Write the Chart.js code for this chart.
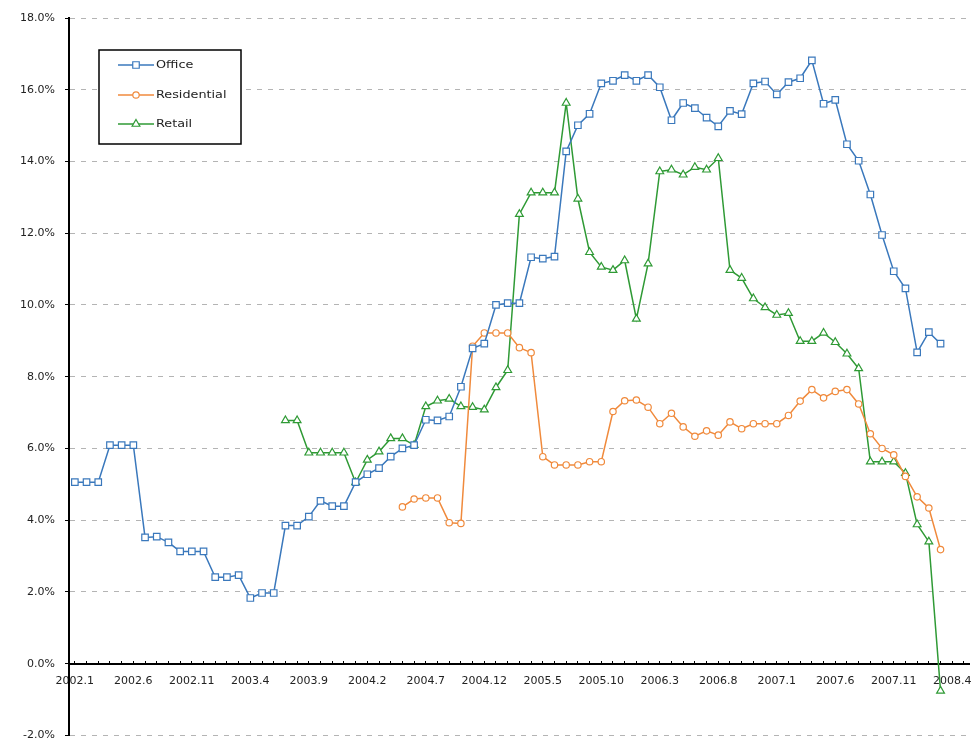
<!DOCTYPE html>
<html>
<head>
<meta charset="utf-8">
<script src="https://cdn.jsdelivr.net/npm/chart.js@4.4.1/dist/chart.umd.min.js"></script>
<style>
  html, body { margin: 0; padding: 0; background: #fff; }
  #wrap { width: 979px; height: 752px; position: relative; }
</style>
</head>
<body>
<div id="wrap"><canvas id="yield-chart"></canvas></div>
<script>
// Monthly categories, 2002.1 onward (axis runs a little past the last reading)
const months = [
    '2002.1', '2002.2', '2002.3', '2002.4', '2002.5', '2002.6', '2002.7', '2002.8', '2002.9', '2002.10', '2002.11', '2002.12',
    '2003.1', '2003.2', '2003.3', '2003.4', '2003.5', '2003.6', '2003.7', '2003.8', '2003.9', '2003.10', '2003.11', '2003.12',
    '2004.1', '2004.2', '2004.3', '2004.4', '2004.5', '2004.6', '2004.7', '2004.8', '2004.9', '2004.10', '2004.11', '2004.12',
    '2005.1', '2005.2', '2005.3', '2005.4', '2005.5', '2005.6', '2005.7', '2005.8', '2005.9', '2005.10', '2005.11', '2005.12',
    '2006.1', '2006.2', '2006.3', '2006.4', '2006.5', '2006.6', '2006.7', '2006.8', '2006.9', '2006.10', '2006.11', '2006.12',
    '2007.1', '2007.2', '2007.3', '2007.4', '2007.5', '2007.6', '2007.7', '2007.8', '2007.9', '2007.10', '2007.11', '2007.12',
    '2008.1', '2008.2', '2008.3', '2008.4', '2008.5'
];

// Office: 2002.1 - 2008.3
const office = [
    5.06, 5.06, 5.06, 6.09, 6.09, 6.09, 3.52, 3.54, 3.38, 3.13, 3.13, 3.13,
    2.41, 2.41, 2.47, 1.83, 1.97, 1.97, 3.85, 3.85, 4.10, 4.54, 4.39, 4.39,
    5.06, 5.28, 5.45, 5.77, 6.00, 6.09, 6.80, 6.78, 6.89, 7.72, 8.79, 8.92,
    10.00, 10.05, 10.05, 11.33, 11.29, 11.35, 14.28, 15.01, 15.33, 16.18, 16.25, 16.41,
    16.25, 16.41, 16.07, 15.15, 15.63, 15.49, 15.22, 14.98, 15.41, 15.32, 16.18, 16.23,
    15.87, 16.21, 16.32, 16.82, 15.61, 15.72, 14.48, 14.02, 13.08, 11.95, 10.94, 10.46,
    8.68, 9.24, 8.92
];

// Residential: 2004.5 - 2008.3
const residentialStart = 28;
const residential = [
    4.37, 4.59, 4.62, 4.62, 3.93, 3.91, 8.85, 9.22,
    9.22, 9.22, 8.81, 8.67, 5.77, 5.54, 5.54, 5.54, 5.63, 5.63, 7.03, 7.33,
    7.35, 7.15, 6.69, 6.98, 6.60, 6.34, 6.49, 6.37, 6.74, 6.55, 6.69, 6.69,
    6.69, 6.92, 7.32, 7.64, 7.41, 7.59, 7.64, 7.24, 6.41, 6.00, 5.82, 5.22,
    4.65, 4.34, 3.18
];

// Retail: 2003.7 - 2008.3
const retailStart = 18;
const retail = [
    6.78, 6.78, 5.88, 5.88, 5.88, 5.88,
    5.05, 5.68, 5.91, 6.28, 6.28, 6.09, 7.17, 7.33, 7.38, 7.17, 7.15, 7.08,
    7.70, 8.18, 12.53, 13.13, 13.13, 13.13, 15.63, 12.96, 11.47, 11.06, 10.97, 11.24,
    9.61, 11.15, 13.72, 13.77, 13.63, 13.84, 13.77, 14.09, 10.97, 10.75, 10.18, 9.93,
    9.72, 9.77, 8.99, 8.99, 9.22, 8.96, 8.64, 8.23, 5.63, 5.63, 5.63, 5.31,
    3.88, 3.40, -0.76
];

const yTicks = [-2, 0, 2, 4, 6, 8, 10, 12, 14, 16, 18];

function padFrom(start, values) {
    return Array(start).fill(null).concat(values);
}

const tickFont = { family: 'DejaVu Sans', size: 11 };

// Boxed legend drawn in the upper-left of the plot
const boxLegend = {
    id: 'boxLegend',
    afterDraw(chart) {
        const ctx = chart.ctx;
        ctx.save();
        ctx.fillStyle = '#fff';
        ctx.fillRect(99, 50, 142, 94);
        ctx.strokeStyle = '#000';
        ctx.lineWidth = 1.5;
        ctx.strokeRect(99, 50, 142, 94);

        const rows = [65, 95, 124];
        chart.data.datasets.forEach((ds, i) => {
            const y = rows[i];
            ctx.strokeStyle = ds.borderColor;
            ctx.lineWidth = 1.5;
            ctx.beginPath();
            ctx.moveTo(118, y);
            ctx.lineTo(154, y);
            ctx.stroke();

            ctx.fillStyle = '#fff';
            ctx.lineWidth = 1.2;
            Chart.helpers.drawPoint(ctx, {
                pointStyle: ds.pointStyle,
                radius: ds.pointRadius,
                rotation: 0,
                borderWidth: 1.2
            }, 136, y);

            ctx.save();
            ctx.translate(156, y);
            ctx.scale(1.28, 1);
            ctx.fillStyle = '#222';
            ctx.font = '10px "DejaVu Sans"';
            ctx.textBaseline = 'middle';
            ctx.fillText(ds.label, 0, 0);
            ctx.restore();
        });
        ctx.restore();
    }
};

function lineSet(label, data, color, style, radius) {
    return {
        label: label,
        data: data,
        borderColor: color,
        backgroundColor: color,
        borderWidth: 1.5,
        pointStyle: style,
        pointRadius: radius,
        pointBorderWidth: 1.2,
        pointBackgroundColor: '#fff',
        pointBorderColor: color,
        tension: 0
    };
}

new Chart(document.getElementById('yield-chart'), {
    type: 'line',
    data: {
        labels: months,
        datasets: [
            lineSet('Office', office, '#3a78bc', 'rect', 4.6),
            lineSet('Residential', padFrom(residentialStart, residential), '#f08a3c', 'circle', 3.2),
            lineSet('Retail', padFrom(retailStart, retail), '#2f9a35', 'triangle', 4.5)
        ]
    },
    options: {
        responsive: true,
        maintainAspectRatio: false,
        animation: false,
        layout: { padding: { top: 18, bottom: 6, left: 0, right: 9 } },
        plugins: {
            legend: { display: false },
            tooltip: { enabled: false }
        },
        scales: {
            x: {
                type: 'category',
                offset: true,
                position: { y: 0 },
                grid: {
                    drawOnChartArea: false,
                    drawTicks: true,
                    // small marks sitting on top of the zero line
                    tickLength: -4,
                    tickColor: '#000',
                    tickWidth: 1
                },
                border: { color: '#000', width: 2 },
                ticks: {
                    autoSkip: false,
                    maxRotation: 0,
                    padding: 15,
                    color: '#222',
                    font: tickFont,
                    callback: (value, index) => index % 5 === 0 ? months[index] : ''
                }
            },
            y: {
                min: yTicks[0],
                max: yTicks[yTicks.length - 1],
                afterBuildTicks: (scale) => {
                    scale.ticks = yTicks.map(v => ({ value: v }));
                },
                afterFit: (scale) => { scale.width = 69; },
                grid: {
                    color: (c) => c.tick && c.tick.value === 0 ? 'rgba(0,0,0,0)' : '#b4b4b4',
                    lineWidth: 1,
                    drawTicks: true,
                    tickLength: 4,
                    tickColor: '#000',
                    tickWidth: 1
                },
                border: { color: '#000', width: 2, dash: [5, 6] },
                ticks: {
                    padding: 10,
                    color: '#222',
                    font: tickFont,
                    callback: (value) => value.toFixed(1) + '%'
                }
            }
        }
    },
    plugins: [boxLegend]
});
</script>
</body>
</html>
